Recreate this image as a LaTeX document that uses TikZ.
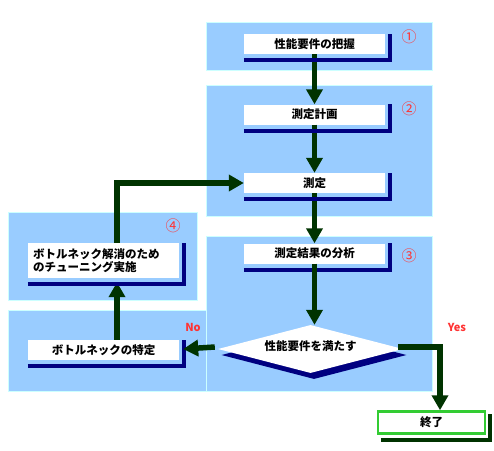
\documentclass[tikz,border=0pt]{standalone}
\usepackage{fontspec}
\setmainfont{Noto Sans CJK JP}
\usetikzlibrary{arrows.meta,shapes.geometric}
\definecolor{panelblue}{HTML}{99CCFF}
\definecolor{panelline}{HTML}{CCFFFF}
\definecolor{navyline}{HTML}{000080}
\definecolor{flowgreen}{HTML}{003300}
\definecolor{endgreen}{HTML}{33CC33}
\definecolor{numred}{HTML}{FF3333}
\tikzset{
  panel/.style={fill=panelblue,draw=panelline,line width=0.8pt},
  stepbox/.style={fill=white,inner sep=0pt,minimum width=141pt,minimum height=20pt,
    font=\fontsize{11.5}{13.5}\selectfont\bfseries},
  shade/.style={draw=navyline,line width=4pt},
  flow/.style={draw=flowgreen,line width=5.5pt,-{Triangle[length=15pt,width=16pt]}},
  decision/.style={diamond,aspect=3.85,inner sep=0pt,minimum width=185pt,minimum height=48pt},
  num/.style={text=numred,font=\fontsize{15}{16}\selectfont},
  answer/.style={text=numred,font=\fontsize{11}{12}\selectfont\bfseries}
}
\begin{document}
\begin{tikzpicture}[x=1pt,y=-1pt]
\useasboundingbox (0,0) rectangle (494,450);
% panels
\path[panel] (206,22) rectangle (432,70);
\path[panel] (206,85) rectangle (432,216);
\path[panel] (206,236) rectangle (432,391);
\path[panel] (8,212) rectangle (197,300);
\path[panel] (8,310) rectangle (206,391);
% boxes
\node[stepbox] (grasp)    at (314.5,44)  {性能要件の把握};
\node[stepbox] (plan)     at (314.5,114.5) {測定計画};
\node[stepbox] (measure)  at (314.5,183) {測定};
\node[stepbox] (analysis) at (314.5,253.5) {測定結果の分析};
\node[stepbox,align=left,text width=151pt,minimum height=35pt] (tuning) at (103.5,260.5)
  {\hspace*{5pt}ボトルネック解消のため\\\hspace*{5pt}のチューニング実施};
\node[stepbox,minimum width=151pt] (locate) at (103.5,350) {ボトルネックの特定};
\node[fill=white,draw=endgreen,line width=2.5pt,inner sep=0pt,minimum width=107pt,minimum height=22pt,
  font=\fontsize{11.5}{14}\selectfont\bfseries] (finish) at (431.5,422.5) {終了};
\coordinate (yesbend) at (440,348);
\coordinate (loopx) at (117,300);
% arrows
\draw[flow] (grasp) -- (plan);
\draw[flow] (plan) -- (measure);
\draw[flow] (measure) -- (analysis);
\draw[flow] (locate.north -| loopx) -- ([yshift=-4pt]tuning.south -| loopx);
\draw[flow] (tuning.north -| loopx) |- (measure.west);
% shadows
\foreach \b in {grasp,plan,measure,analysis,tuning,locate}
  \draw[shade] ([yshift=-6pt]\b.south west) -| ([xshift=5pt]\b.north east);
\draw[draw=flowgreen,line width=4pt] ([xshift=4pt,yshift=-5pt]finish.south west) -| ([xshift=4pt,yshift=-4pt]finish.north east);
% decision
\node[decision,fill=navyline] (dshadow) at (314,355) {};
\node[decision,fill=white,font=\fontsize{11.5}{14}\selectfont\bfseries] (check) at (310.5,349)
  {\raisebox{7pt}{性能要件を満たす}};
\draw[flow] (analysis) -- (analysis |- check.north);
\draw[flow] ([xshift=-3pt,yshift=2pt]check.west) -- ([xshift=4pt]locate.east |- check.west);
\draw[flow] ([xshift=-5pt,yshift=2pt]check.east) -| (yesbend |- finish.north);
% labels
\node[num] (n1) at (409,37)  {①};
\node[num] (n2) at (409,109) {②};
\node[num] (n3) at (409,256) {③};
\node[num] (n4) at (173,226) {④};
\node[answer] (no)  at (193,327) {No};
\node[answer] (yes) at (457,327) {Yes};
\end{tikzpicture}
\end{document}
